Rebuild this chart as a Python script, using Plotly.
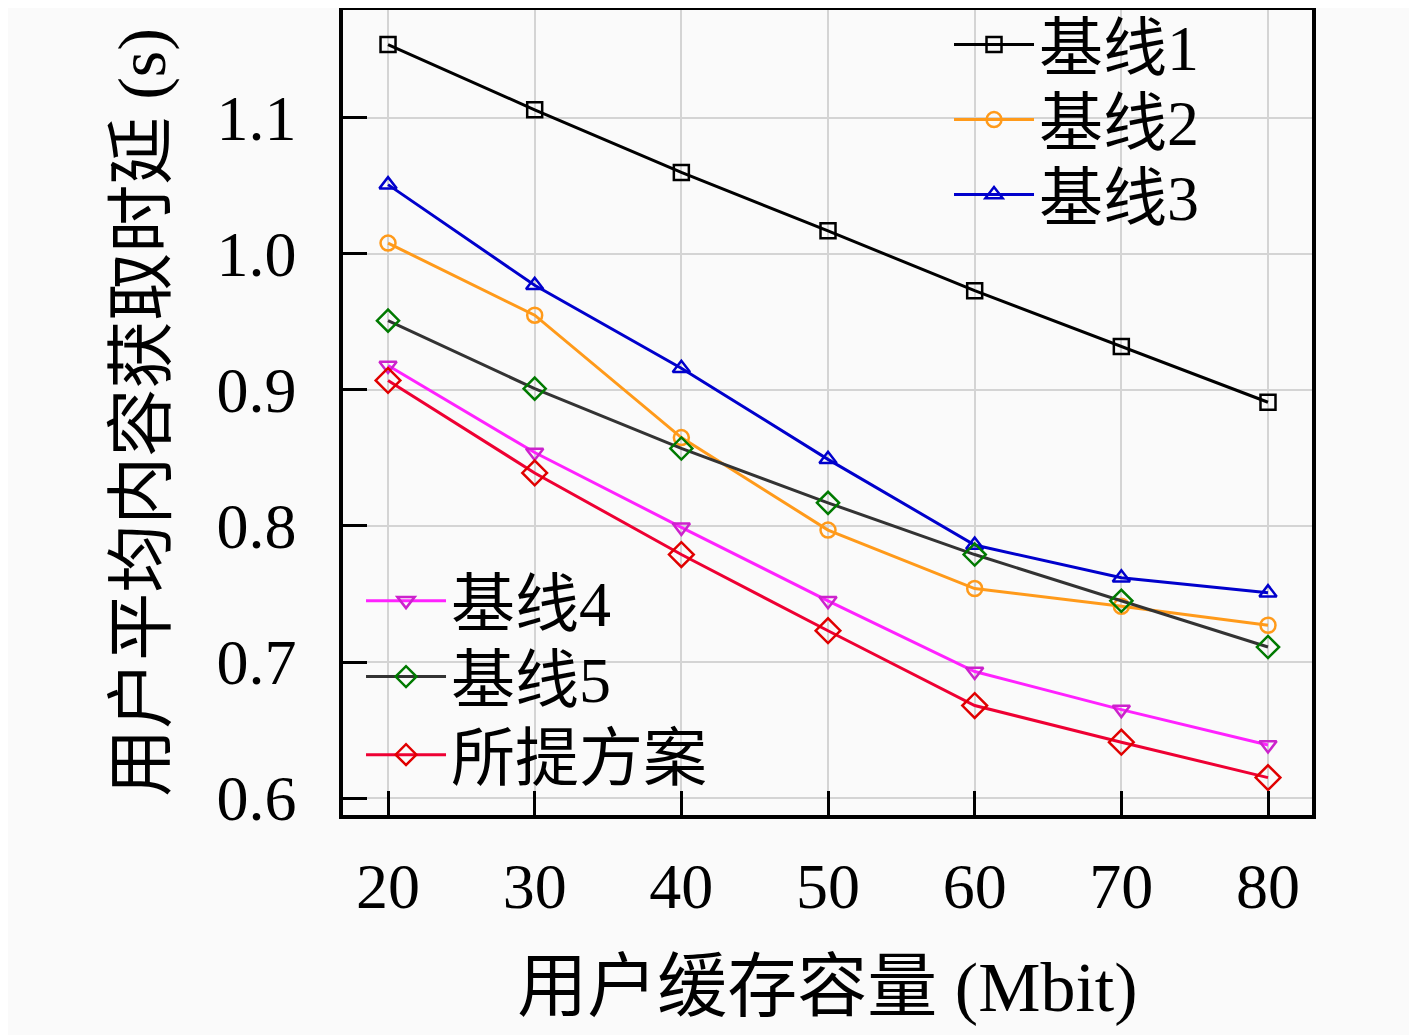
import plotly.graph_objects as go

# user cache capacity (Mbit)
cache_mbit = [20, 30, 40, 50, 60, 70, 80]

# average content fetch delay (s)
baseline1 = [1.154, 1.106, 1.060, 1.017, 0.973, 0.932, 0.891]
baseline2 = [1.008, 0.955, 0.865, 0.797, 0.754, 0.741, 0.727]
baseline3 = [1.051, 0.977, 0.916, 0.849, 0.786, 0.762, 0.751]
baseline4 = [0.918, 0.854, 0.799, 0.745, 0.693, 0.665, 0.639]
baseline5 = [0.951, 0.901, 0.857, 0.817, 0.779, 0.745, 0.711]
proposed = [0.907, 0.839, 0.779, 0.723, 0.668, 0.641, 0.615]

y_ticks = [0.6, 0.7, 0.8, 0.9, 1.0, 1.1]
y_ticktext = ["0.6", "0.7", "0.8", "0.9", "1.0", "1.1"]

FONT = "Liberation Serif, Noto Sans CJK SC, serif"
BG = "#fafafa"

# name, values, line colour, marker colour, symbol, size
series = [
    ("基线1", baseline1, "#000000", "#000000", "square-open", 15),
    ("基线2", baseline2, "#ff9a1a", "#ff9a1a", "circle-open", 15),
    ("基线3", baseline3, "#0000cc", "#0000cc", "triangle-up-open", 15),
    ("基线4", baseline4, "#ff22ff", "#cc22cc", "triangle-down-open", 15),
    ("基线5", baseline5, "#333333", "#007a00", "diamond-open", 17),
    ("所提方案", proposed, "#ee0033", "#e00000", "diamond-open", 19),
]

# one legend box per entry so rows sit where the reference has them
legend_pos = [
    (0.6254, 0.9565), (0.6254, 0.8634), (0.6254, 0.7702),
    (0.0186, 0.2658), (0.0186, 0.1714), (0.0186, 0.0745),
]

fig = go.Figure()
layout_legends = {}
for i, (name, vals, lc, mc, sym, sz) in enumerate(series):
    key = "legend" if i == 0 else "legend%d" % (i + 1)
    fig.add_trace(go.Scatter(
        x=cache_mbit, y=vals, name=name, mode="lines+markers",
        line=dict(color=lc, width=3),
        marker=dict(symbol=sym, size=sz, color=mc, line=dict(width=2.5, color=mc)),
        legend=key,
    ))
    lx, ly = legend_pos[i]
    layout_legends[key] = dict(
        x=lx, y=ly, xanchor="left", yanchor="middle",
        bgcolor="rgba(0,0,0,0)", font=dict(size=64, family=FONT),
        itemwidth=80,
    )

# page body adds an 8px offset, so the figure is a touch smaller
fig.update_layout(
    width=1409, height=1027,
    margin=dict(l=335, r=105, t=2, b=220, autoexpand=False),
    paper_bgcolor=BG, plot_bgcolor=BG,
    font=dict(family=FONT, color="black", size=62),
    showlegend=True,
    **layout_legends,
)

fig.update_xaxes(
    range=[16.93, 83.0], tickvals=cache_mbit,
    ticks="inside", ticklen=24, tickwidth=2.5, tickcolor="black",
    showline=True, linecolor="black", linewidth=3.5, mirror=True,
    showgrid=True, gridcolor="#d4d4d4", gridwidth=1.5, zeroline=False,
    tickfont=dict(size=64, family=FONT), ticklabelstandoff=12,
    title=dict(text="用户缓存容量 (Mbit)", font=dict(size=70, family=FONT), standoff=42),
)
fig.update_yaxes(
    range=[0.5875, 1.1794], tickvals=y_ticks, ticktext=y_ticktext,
    ticks="inside", ticklen=24, tickwidth=2.5, tickcolor="black",
    showline=True, linecolor="black", linewidth=3.5, mirror=True,
    showgrid=True, gridcolor="#d4d4d4", gridwidth=1.5, zeroline=False,
    tickfont=dict(size=64, family=FONT), ticklabelstandoff=30,
    title=dict(text="用户平均内容获取时延 (s)", font=dict(size=68, family=FONT), standoff=30),
)

fig.write_html("out.html")
